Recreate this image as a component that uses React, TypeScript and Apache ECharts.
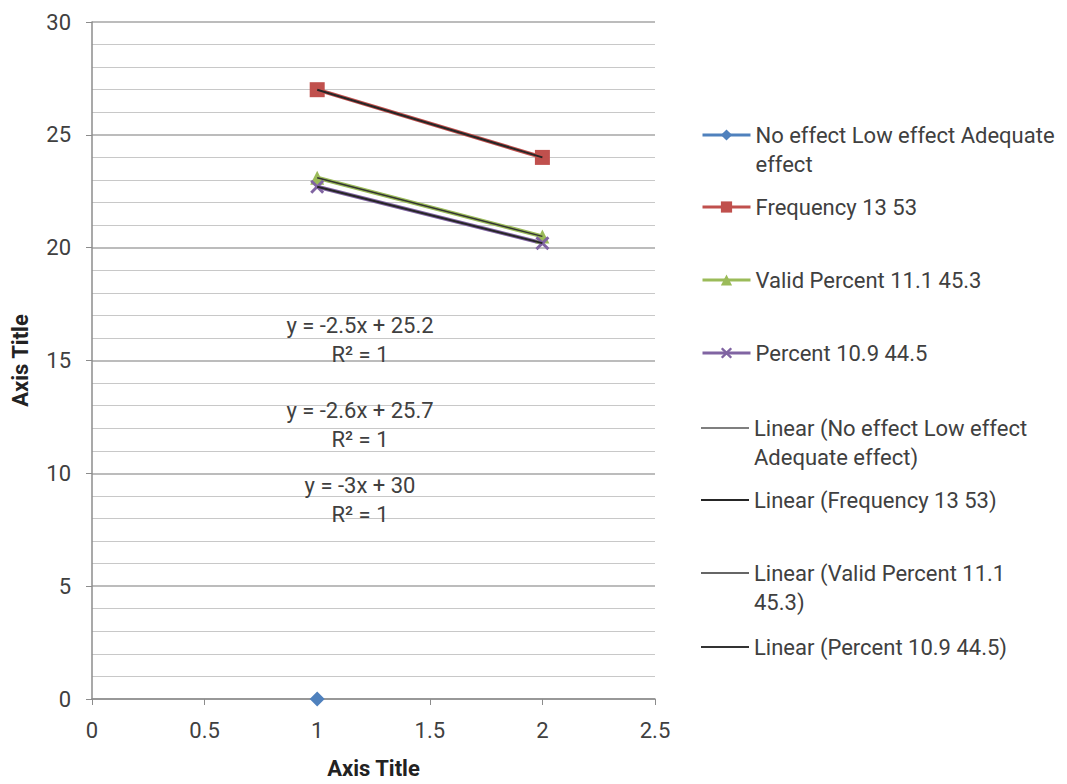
import React, { useEffect, useRef } from "react";
import * as echarts from "echarts";

const xTicks = [0, 0.5, 1, 1.5, 2, 2.5];
const noEffect: number[][] = [[1, 0]];
const frequency: number[][] = [[1, 27], [2, 24]];
const validPercent: number[][] = [[1, 23.1], [2, 20.5]];
const percent: number[][] = [[1, 22.7], [2, 20.2]];
const trendNoEffect: number[][] = [];
const trendFrequency: number[][] = [[1, 27], [2, 24]];
const trendValid: number[][] = [[1, 23.1], [2, 20.5]];
const trendPercent: number[][] = [[1, 22.7], [2, 20.2]];

const names = [
  "No effect Low effect Adequate effect",
  "Frequency 13 53",
  "Valid Percent 11.1 45.3",
  "Percent 10.9 44.5",
  "Linear (No effect Low effect Adequate effect)",
  "Linear (Frequency 13 53)",
  "Linear (Valid Percent 11.1 45.3)",
  "Linear (Percent 10.9 44.5)",
];
const legendLabels = [
  ["No effect Low effect Adequate", "effect"],
  ["Frequency 13 53"],
  ["Valid Percent 11.1 45.3"],
  ["Percent 10.9 44.5"],
  ["Linear (No effect Low effect", "Adequate effect)"],
  ["Linear (Frequency 13 53)"],
  ["Linear (Valid Percent 11.1", "45.3)"],
  ["Linear (Percent 10.9 44.5)"],
];
const equations = [
  "y = -2.5x + 25.2\nR² = 1",
  "y = -2.6x + 25.7\nR² = 1",
  "y = -3x + 30\nR² = 1",
];

const FONT = "Roboto";
const X_SYMBOL =
  "path://M0,1.5 L1.5,0 L5,3.5 L8.5,0 L10,1.5 L6.5,5 L10,8.5 L8.5,10 L5,6.5 L1.5,10 L0,8.5 L3.5,5 Z";

export default function App() {
  const ref = useRef<HTMLDivElement>(null);
  useEffect(() => {
    if (!ref.current) return;
    const chart = echarts.init(ref.current, undefined, { renderer: "svg" });
    const LH = 29;
    const firstLineCenters = [135, 207, 280, 353, 428, 500, 573, 647];
    const isTrend = [false, false, false, false, true, true, true, true];
    const legends = names.map((n, i) => {
      const lines = legendLabels[i];
      const text = lines.length > 1 ? "\n" + lines.join("\n") : lines[0];
      const nLines = lines.length > 1 ? 3 : 1;
      return {
        data: isTrend[i] ? [{ name: n, icon: "rect" }] : [n],
        left: 701,
        top: firstLineCenters[i] - (nLines * LH) / 2,
        orient: "vertical",
        itemWidth: 48,
        itemHeight: isTrend[i] ? 2 : 14,
        padding: 0,
        lineStyle: isTrend[i] ? undefined : { width: 3 },
        formatter: () => text,
        textStyle: { fontFamily: FONT, fontSize: 22, color: "#404040", lineHeight: LH },
        selectedMode: false,
      };
    });
    const eqCenters = [340, 425, 500];
    chart.setOption({
      animation: false,
      backgroundColor: "#ffffff",
      grid: { left: 92, right: 412, top: 22, bottom: 81 },
      legend: legends,
      xAxis: {
        type: "value",
        min: 0,
        max: 2.5,
        interval: 0.5,
        name: "Axis Title",
        nameLocation: "middle",
        nameGap: 58,
        nameTextStyle: { fontFamily: FONT, fontSize: 22, fontWeight: "bold", color: "#222" },
        axisLine: { show: true, onZero: false, lineStyle: { color: "#8c8c8c", width: 1.5 } },
        axisTick: { show: true, length: 6, lineStyle: { color: "#8c8c8c" } },
        axisLabel: {
          fontFamily: FONT,
          fontSize: 22,
          color: "#404040",
          margin: 20,
          formatter: (v: number) => (xTicks.includes(v) ? String(v) : ""),
        },
        splitLine: { show: false },
      },
      yAxis: {
        type: "value",
        min: 0,
        max: 30,
        interval: 5,
        name: "Axis Title",
        nameLocation: "middle",
        nameGap: 61,
        nameRotate: 90,
        nameTextStyle: { fontFamily: FONT, fontSize: 22, fontWeight: "bold", color: "#222" },
        axisLine: { show: true, lineStyle: { color: "#8c8c8c", width: 1.5 } },
        axisTick: { show: true, length: 6, lineStyle: { color: "#8c8c8c" } },
        axisLabel: { fontFamily: FONT, fontSize: 22, color: "#404040", margin: 21 },
        splitLine: { show: true, lineStyle: { color: "#a6a6a6", width: 1.5 } },
        minorTick: { show: false, splitNumber: 5 },
        minorSplitLine: { show: true, lineStyle: { color: "#c8c8c8", width: 1 } },
      },
      graphic: equations.map((t, i) => ({
        type: "text",
        x: 360,
        y: eqCenters[i],
        z: 10,
        style: {
          text: t,
          align: "center",
          verticalAlign: "middle",
          fontFamily: FONT,
          fontSize: 22,
          lineHeight: 29,
          fill: "#404040",
        },
      })),
      series: [
        {
          name: names[0],
          type: "line",
          data: noEffect,
          symbol: "diamond",
          symbolSize: 15,
          color: "#4F81BD",
          lineStyle: { width: 3, color: "#4F81BD" },
          z: 3,
        },
        {
          name: names[1],
          type: "line",
          data: frequency,
          symbol: "rect",
          symbolSize: 15,
          color: "#C0504D",
          lineStyle: { width: 4, color: "#C0504D" },
          z: 3,
        },
        {
          name: names[2],
          type: "line",
          data: validPercent,
          symbol: "triangle",
          symbolSize: 14,
          color: "#9BBB59",
          lineStyle: { width: 4, color: "#9BBB59" },
          z: 3,
        },
        {
          name: names[3],
          type: "line",
          data: percent,
          symbol: X_SYMBOL,
          symbolSize: 14,
          color: "#8064A2",
          lineStyle: { width: 4, color: "#8064A2" },
          z: 3,
        },
        {
          name: names[4],
          type: "line",
          data: trendNoEffect,
          symbol: "none",
          color: "#7f7f7f",
          lineStyle: { width: 2, color: "#7f7f7f" },
          z: 4,
        },
        {
          name: names[5],
          type: "line",
          data: trendFrequency,
          symbol: "none",
          color: "#262626",
          lineStyle: { width: 2, color: "#262626" },
          z: 4,
        },
        {
          name: names[6],
          type: "line",
          data: trendValid,
          symbol: "none",
          color: "#666666",
          lineStyle: { width: 1.5, color: "#333333" },
          z: 4,
        },
        {
          name: names[7],
          type: "line",
          data: trendPercent,
          symbol: "none",
          color: "#333333",
          lineStyle: { width: 2, color: "#262626" },
          z: 4,
        },
      ],
    });
    return () => chart.dispose();
  }, []);
  return <div ref={ref} style={{ width: 1067, height: 784, margin: -8 }} />;
}
